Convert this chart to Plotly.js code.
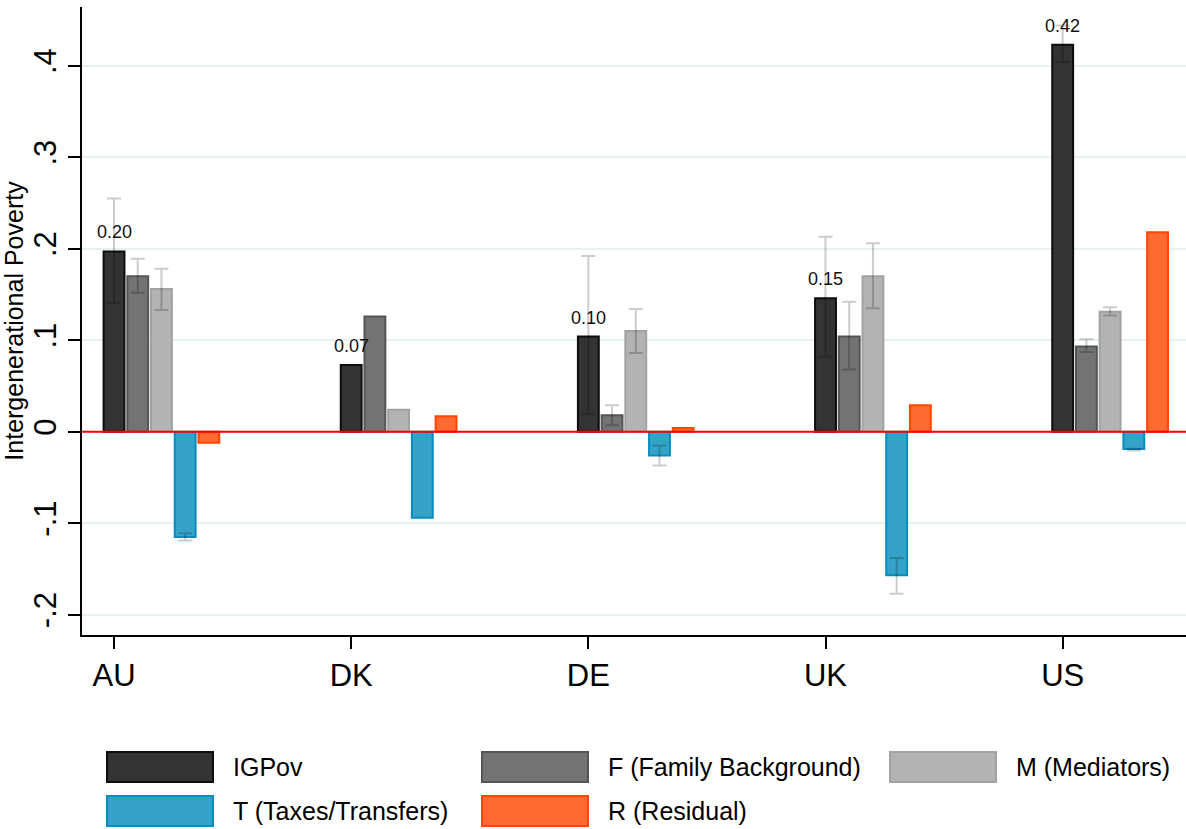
<!DOCTYPE html>
<html>
<head>
<meta charset="utf-8">
<script src="https://cdn.plot.ly/plotly-3.0.1.min.js"></script>
<style>
html,body{margin:0;padding:0;background:#fff;}
#chart{width:1186px;height:829px;}
</style>
</head>
<body>
<div id="chart"></div>
<script>
// ---- data ----
var countries = ["AU", "DK", "DE", "UK", "US"];
var seriesNames = ["IGPov", "F (Family Background)", "M (Mediators)", "T (Taxes/Transfers)", "R (Residual)"];

var igpov = [0.197, 0.073, 0.104, 0.146, 0.423];
var famBg = [0.170, 0.126, 0.018, 0.104, 0.093];
var mediators = [0.156, 0.024, 0.110, 0.170, 0.131];
var taxes = [-0.115, -0.094, -0.026, -0.157, -0.019];
var residual = [-0.012, 0.017, 0.004, 0.029, 0.218];

// confidence interval bounds (NaN = none shown)
var igpovHi = [0.255, NaN, 0.192, 0.213, 0.444];
var igpovLo = [0.141, NaN, 0.019, 0.082, 0.404];
var famBgHi = [0.189, NaN, 0.029, 0.142, 0.101];
var famBgLo = [0.152, NaN, 0.007, 0.068, 0.087];
var medHi = [0.178, NaN, 0.134, 0.206, 0.136];
var medLo = [0.133, NaN, 0.086, 0.135, 0.127];
var taxHi = [-0.111, NaN, -0.015, -0.138, -0.0185];
var taxLo = [-0.119, NaN, -0.037, -0.177, -0.0205];
var resHi = [NaN, NaN, NaN, NaN, NaN];
var resLo = [NaN, NaN, NaN, NaN, NaN];

var yTickVals = [-0.2, -0.1, 0, 0.1, 0.2, 0.3, 0.4];
var yTickText = ["-.2", "-.1", "0", ".1", ".2", ".3", ".4"];

// ---- styles ----
var FONT = "Liberation Sans, Arial, Helvetica, sans-serif";
var fills = ["#333333", "#737373", "#b3b3b3", "#35a3c9", "#ff6a30"];
var lines = ["#0d0d0d", "#555555", "#a2a2a2", "#0a8bbf", "#ff4500"];
var barStep = 0.1;
var barWidth = 0.088;

var values = [igpov, famBg, mediators, taxes, residual];
var his = [igpovHi, famBgHi, medHi, taxHi, resHi];
var los = [igpovLo, famBgLo, medLo, taxLo, resLo];

var traces = values.map(function (vals, k) {
  var xs = countries.map(function (c, g) { return g + k * barStep; });
  var up = vals.map(function (v, i) { return his[k][i] - v; });
  var dn = vals.map(function (v, i) { return v - los[k][i]; });
  return {
    type: "bar",
    name: seriesNames[k],
    x: xs,
    y: vals,
    width: barWidth,
    marker: { color: fills[k], line: { color: lines[k], width: 2 } },
    error_y: {
      type: "data", symmetric: false, array: up, arrayminus: dn,
      color: "rgba(0,0,0,0.2)", thickness: 2, width: 7, visible: true
    },
    hoverinfo: "name+y",
    showlegend: false,
    cliponaxis: false
  };
});

// value labels on IGPov bars
var annotations = igpov.map(function (v, g) {
  return {
    x: g, y: v, xref: "x", yref: "y", text: v.toFixed(2),
    showarrow: false, yanchor: "bottom", yshift: 7,
    font: { family: FONT, size: 18, color: "#111" }
  };
});

// custom legend (large swatches)
var W = 1186, H = 829, ML = 82, MR = 0, MT = 7, MB = 194;
function px(xp) { return (xp - ML) / (W - ML - MR); }
function py(yp) { return (H - MB - yp) / (H - MT - MB); }
var legendPos = [
  { sx: 107, sy: 752 }, { sx: 482, sy: 752 }, { sx: 890, sy: 752 },
  { sx: 107, sy: 796 }, { sx: 482, sy: 796 }
];
var shapes = [];
legendPos.forEach(function (p, k) {
  shapes.push({
    type: "rect", xref: "paper", yref: "paper",
    x0: px(p.sx), x1: px(p.sx + 106), y0: py(p.sy), y1: py(p.sy + 30),
    fillcolor: fills[k], line: { color: lines[k], width: 2 }
  });
  annotations.push({
    xref: "paper", yref: "paper", x: px(p.sx + 124), y: py(p.sy + 15),
    xanchor: "left", yanchor: "middle", showarrow: false,
    text: seriesNames[k], font: { family: FONT, size: 25, color: "#000" }
  });
});
// zero reference line
shapes.push({
  type: "line", xref: "paper", yref: "y", x0: 0, x1: 1, y0: 0, y1: 0,
  line: { color: "#ff0000", width: 2 }, layer: "above"
});

var layout = {
  width: W, height: H,
  margin: { l: ML, r: MR, t: MT, b: MB, pad: 0 },
  paper_bgcolor: "#ffffff", plot_bgcolor: "#ffffff",
  font: { family: FONT, color: "#000" },
  showlegend: false,
  barmode: "overlay",
  xaxis: {
    range: [-0.135, 4.52], tickmode: "array",
    tickvals: countries.map(function (c, g) { return g; }), ticktext: countries,
    ticks: "outside", ticklen: 12, tickwidth: 2, tickcolor: "#000",
    showline: true, linecolor: "#000", linewidth: 2,
    showgrid: false, zeroline: false,
    tickfont: { family: FONT, size: 31, color: "#000" }
  },
  yaxis: {
    range: [-0.2222, 0.4642], tickmode: "array",
    tickvals: yTickVals, ticktext: yTickText, tickangle: -90,
    ticks: "outside", ticklen: 12, tickwidth: 2, tickcolor: "#000",
    showline: true, linecolor: "#000", linewidth: 2,
    showgrid: true, gridcolor: "#e8f0f2", gridwidth: 2, zeroline: false,
    tickfont: { family: FONT, size: 31, color: "#000" },
    title: { text: "Intergenerational Poverty", font: { family: FONT, size: 25, color: "#000" }, standoff: 0 }
  },
  annotations: annotations,
  shapes: shapes
};

Plotly.newPlot("chart", traces, layout, { displayModeBar: false, staticPlot: true });
</script>
</body>
</html>
